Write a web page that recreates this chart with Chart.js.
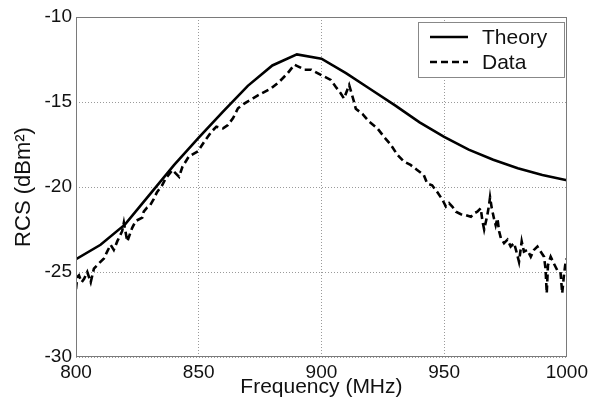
<!DOCTYPE html>
<html>
<head>
<meta charset="utf-8">
<script src="https://cdn.jsdelivr.net/npm/chart.js@4"></script>
<style>
html,body{margin:0;padding:0;background:#fff;}
#wrap{width:592px;height:403px;}
</style>
</head>
<body>
<div id="wrap"><canvas id="c" width="592" height="403"></canvas></div>
<script>
const theoryFreq = [800,810,820,830,840,850,860,870,880,890,900,910,920,930,940,950,960,970,980,990,1000];
const theoryRcs = [-24.25,-23.4,-22.2,-20.45,-18.7,-17.1,-15.55,-14.05,-12.85,-12.2,-12.45,-13.3,-14.25,-15.2,-16.2,-17.05,-17.8,-18.4,-18.9,-19.3,-19.6];

const dataFreq = [800.0,800.5,801.2,802.3,803.3,804.6,806.0,807.3,809.3,811.4,
812.7,814.1,815.4,816.8,818.8,819.5,820.9,822.9,824.3,827.0,
827.6,829.0,830.3,831.7,833.0,835.1,836.5,839.3,842.0,843.4,
846.0,849.7,852.4,855.2,857.2,859.9,861.9,864.0,866.0,868.7,
872.1,875.5,879.5,882.9,886.3,889.0,890.4,893.1,895.8,898.4,
901.1,903.8,905.8,907.9,909.2,911.3,911.9,913.3,914.0,916.7,
919.4,922.8,925.5,928.2,930.9,933.6,936.3,939.0,941.7,943.1,
945.1,947.2,949.3,950.7,952.0,953.3,954.8,956.8,958.8,960.9,
962.2,963.5,964.9,965.6,966.3,967.6,968.3,968.7,969.4,970.3,
971.0,971.7,972.4,973.1,974.4,975.8,977.1,978.5,979.8,980.5,
981.6,982.5,983.9,985.3,986.6,988.0,989.3,990.7,991.3,991.8,
992.3,993.4,994.7,996.1,997.4,998.1,998.8,999.5,1000.0];
const dataRcs = [-26.0,-25.3,-25.2,-25.6,-25.4,-25.0,-25.6,-24.8,-24.5,-24.2,
-23.8,-23.4,-23.7,-23.2,-22.6,-22.1,-23.2,-22.4,-22.0,-21.8,
-21.45,-21.2,-21.05,-20.7,-20.3,-19.9,-19.5,-19.0,-19.4,-18.8,
-18.2,-17.9,-17.3,-16.75,-16.45,-16.55,-16.35,-15.95,-15.37,-15.08,
-14.78,-14.5,-14.2,-13.8,-13.3,-12.8,-12.9,-13.1,-13.1,-13.3,
-13.5,-13.7,-14.1,-14.5,-14.8,-14.0,-14.3,-15.0,-15.4,-15.7,
-16.15,-16.55,-17.05,-17.5,-18.1,-18.5,-18.7,-19.0,-19.3,-19.8,
-19.9,-20.3,-20.75,-21.15,-20.95,-21.15,-21.45,-21.6,-21.65,-21.75,
-21.55,-21.45,-21.25,-22.0,-22.5,-21.65,-21.05,-20.6,-21.25,-21.85,
-22.25,-21.85,-22.6,-23.0,-23.3,-23.1,-23.5,-23.3,-24.0,-24.4,
-23.2,-23.8,-23.7,-24.1,-23.7,-23.5,-23.8,-24.1,-24.8,-26.25,
-24.6,-24.1,-24.5,-24.9,-25.0,-26.25,-25.2,-24.4,-24.2];

const xTicks = [800,850,900,950,1000];
const yTicks = [-30,-25,-20,-15,-10];
const seriesLabels = ['Theory','Data'];
const xTitle = 'Frequency (MHz)';
const yTitle = 'RCS (dBm\u00B2)';

const toPts = (xs, ys) => xs.map((x, i) => ({x: x, y: ys[i]}));
const FONT = '"Liberation Sans", Arial, sans-serif';

const boxAndLegend = {
  id: 'boxAndLegend',
  afterDatasetsDraw(chart) {
    const ctx = chart.ctx;
    const a = chart.chartArea;
    ctx.save();
    ctx.strokeStyle = '#7a7a7a';
    ctx.lineWidth = 1;
    ctx.setLineDash([]);
    ctx.strokeRect(Math.round(a.left) + 0.5, Math.round(a.top) + 0.5,
                   Math.round(a.right - a.left) - 1, Math.round(a.bottom - a.top) - 1);
    const lx = 418, ly = 22, lw = 146, lh = 55;
    ctx.fillStyle = '#fff';
    ctx.fillRect(lx, ly, lw, lh);
    ctx.strokeStyle = '#888';
    ctx.strokeRect(lx + 0.5, ly + 0.5, lw, lh);
    const rows = [37, 62];
    chart.data.datasets.forEach((ds, i) => {
      const y = rows[i];
      ctx.beginPath();
      ctx.strokeStyle = ds.borderColor;
      ctx.lineWidth = ds.borderWidth;
      ctx.setLineDash(ds.borderDash || []);
      ctx.moveTo(430, y);
      ctx.lineTo(468, y);
      ctx.stroke();
      ctx.setLineDash([]);
      ctx.fillStyle = '#111';
      ctx.font = '21px ' + FONT;
      ctx.textBaseline = 'middle';
      ctx.textAlign = 'left';
      ctx.fillText(ds.label, 482, y + 1);
    });
    ctx.restore();
  }
};

new Chart(document.getElementById('c'), {
  type: 'line',
  data: {
    datasets: [
      {
        label: seriesLabels[0],
        data: toPts(theoryFreq, theoryRcs),
        borderColor: '#000',
        borderWidth: 2.6,
        pointRadius: 0,
        tension: 0,
        fill: false
      },
      {
        label: seriesLabels[1],
        data: toPts(dataFreq, dataRcs),
        borderColor: '#000',
        borderWidth: 2.6,
        borderDash: [7, 4],
        pointRadius: 0,
        tension: 0,
        fill: false
      }
    ]
  },
  options: {
    responsive: false,
    animation: false,
    devicePixelRatio: 1,
    layout: {padding: {left: 0, right: 24, top: 17, bottom: 0}},
    plugins: {legend: {display: false}, tooltip: {enabled: false}},
    scales: {
      x: {
        type: 'linear',
        min: 800, max: 1000,
        afterBuildTicks: (s) => { s.ticks = xTicks.map(v => ({value: v})); },
        afterFit: (s) => { s.height = 46; },
        grid: {color: '#9a9a9a', lineWidth: 1, drawTicks: false},
        border: {display: false, dash: [1, 2]},
        ticks: {padding: 4, color: '#111', font: {family: FONT, size: 19}, maxRotation: 0,
                callback: (v) => String(v)},
        title: {display: true, text: xTitle, color: '#111', padding: {top: 0, bottom: 3},
                font: {family: FONT, size: 21}}
      },
      y: {
        type: 'linear',
        min: -30, max: -10,
        afterBuildTicks: (s) => { s.ticks = yTicks.map(v => ({value: v})); },
        afterFit: (s) => { s.width = 76; },
        grid: {color: '#9a9a9a', lineWidth: 1, drawTicks: false},
        border: {display: false, dash: [1, 2]},
        ticks: {padding: 4, color: '#111', font: {family: FONT, size: 19},
                callback: (v) => String(v)},
        title: {display: true, text: yTitle, color: '#111', padding: {top: 11, bottom: 0},
                font: {family: FONT, size: 22}}
      }
    }
  },
  plugins: [boxAndLegend]
});
</script>
</body>
</html>
